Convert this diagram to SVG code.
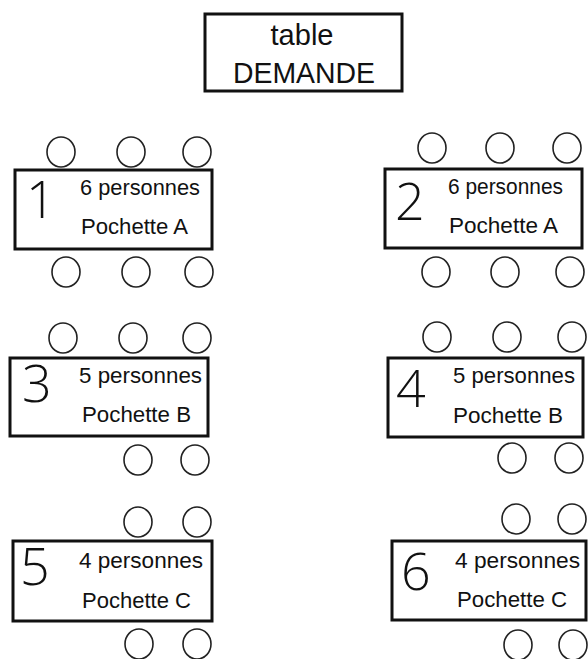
<svg xmlns="http://www.w3.org/2000/svg" width="588" height="659" viewBox="0 0 588 659">
<style>
.tbl{fill:#fff;stroke:#111;stroke-width:3}
.seat{fill:none;stroke:#222;stroke-width:1.6}
.num{font-family:"Open Sans","Liberation Sans",Arial,sans-serif;font-weight:300;font-size:52px;fill:#111}
.lbl{font-family:"Liberation Sans",Arial,sans-serif;font-size:22px;fill:#111}
.ttl{font-family:"Liberation Sans",Arial,sans-serif;font-size:29px;fill:#111;text-anchor:middle}
</style>
<rect width="588" height="659" fill="#fff"/>
<g id="demande">
<rect class="tbl" x="205" y="14" width="197" height="77"/>
<text class="ttl" x="302" y="45" textLength="63" lengthAdjust="spacingAndGlyphs">table</text>
<text class="ttl" x="304" y="83" textLength="142" lengthAdjust="spacingAndGlyphs">DEMANDE</text>
</g>
<g id="table1">
<rect class="tbl" x="15" y="170" width="197" height="79"/>
<text class="num" x="26" y="218">1</text>
<text class="lbl" x="80" y="195" textLength="120" lengthAdjust="spacingAndGlyphs">6 personnes</text>
<text class="lbl" x="81" y="234" textLength="107" lengthAdjust="spacingAndGlyphs">Pochette A</text>
<ellipse class="seat" cx="61" cy="152" rx="14" ry="15"/>
<ellipse class="seat" cx="131" cy="152" rx="14" ry="15"/>
<ellipse class="seat" cx="197" cy="152" rx="14" ry="15"/>
<ellipse class="seat" cx="66" cy="272" rx="14" ry="15"/>
<ellipse class="seat" cx="136" cy="272" rx="14" ry="15"/>
<ellipse class="seat" cx="199" cy="272" rx="14" ry="15"/>
</g>
<g id="table2">
<rect class="tbl" x="385" y="169" width="197" height="79"/>
<text class="num" x="395" y="220">2</text>
<text class="lbl" x="448" y="194" textLength="115" lengthAdjust="spacingAndGlyphs">6 personnes</text>
<text class="lbl" x="449" y="233" textLength="109" lengthAdjust="spacingAndGlyphs">Pochette A</text>
<ellipse class="seat" cx="432" cy="148" rx="14" ry="15"/>
<ellipse class="seat" cx="500" cy="148" rx="14" ry="15"/>
<ellipse class="seat" cx="567" cy="148" rx="14" ry="15"/>
<ellipse class="seat" cx="436" cy="272" rx="14" ry="15"/>
<ellipse class="seat" cx="505" cy="272" rx="14" ry="15"/>
<ellipse class="seat" cx="570" cy="272" rx="14" ry="15"/>
</g>
<g id="table3">
<rect class="tbl" x="10" y="358" width="198" height="78"/>
<text class="num" x="22" y="402">3</text>
<text class="lbl" x="79" y="383" textLength="123" lengthAdjust="spacingAndGlyphs">5 personnes</text>
<text class="lbl" x="82" y="422" textLength="109" lengthAdjust="spacingAndGlyphs">Pochette B</text>
<ellipse class="seat" cx="63" cy="338" rx="14" ry="15"/>
<ellipse class="seat" cx="133" cy="338" rx="14" ry="15"/>
<ellipse class="seat" cx="197" cy="338" rx="14" ry="15"/>
<ellipse class="seat" cx="138" cy="460" rx="14" ry="15"/>
<ellipse class="seat" cx="195" cy="460" rx="14" ry="15"/>
</g>
<g id="table4">
<rect class="tbl" x="388" y="358" width="195" height="79"/>
<text class="num" x="396" y="407">4</text>
<text class="lbl" x="453" y="383" textLength="122" lengthAdjust="spacingAndGlyphs">5 personnes</text>
<text class="lbl" x="453" y="423" textLength="110" lengthAdjust="spacingAndGlyphs">Pochette B</text>
<ellipse class="seat" cx="437" cy="337" rx="14" ry="15"/>
<ellipse class="seat" cx="507" cy="337" rx="14" ry="15"/>
<ellipse class="seat" cx="572" cy="337" rx="14" ry="15"/>
<ellipse class="seat" cx="512" cy="458" rx="14" ry="15"/>
<ellipse class="seat" cx="569" cy="458" rx="14" ry="15"/>
</g>
<g id="table5">
<rect class="tbl" x="13" y="541" width="199" height="80"/>
<text class="num" x="20" y="585">5</text>
<text class="lbl" x="79" y="568" textLength="124" lengthAdjust="spacingAndGlyphs">4 personnes</text>
<text class="lbl" x="82" y="608" textLength="109" lengthAdjust="spacingAndGlyphs">Pochette C</text>
<ellipse class="seat" cx="138" cy="522" rx="14" ry="15"/>
<ellipse class="seat" cx="197" cy="522" rx="14" ry="15"/>
<ellipse class="seat" cx="139" cy="644" rx="14" ry="15"/>
<ellipse class="seat" cx="197" cy="644" rx="14" ry="15"/>
</g>
<g id="table6">
<rect class="tbl" x="392" y="541" width="194" height="79"/>
<text class="num" x="401" y="590">6</text>
<text class="lbl" x="455" y="568" textLength="125" lengthAdjust="spacingAndGlyphs">4 personnes</text>
<text class="lbl" x="457" y="607" textLength="110" lengthAdjust="spacingAndGlyphs">Pochette C</text>
<ellipse class="seat" cx="516" cy="519" rx="14" ry="15"/>
<ellipse class="seat" cx="572" cy="519" rx="14" ry="15"/>
<ellipse class="seat" cx="518" cy="645" rx="14" ry="15"/>
<ellipse class="seat" cx="573" cy="645" rx="14" ry="15"/>
</g>
<g id="connectors"/>
</svg>
